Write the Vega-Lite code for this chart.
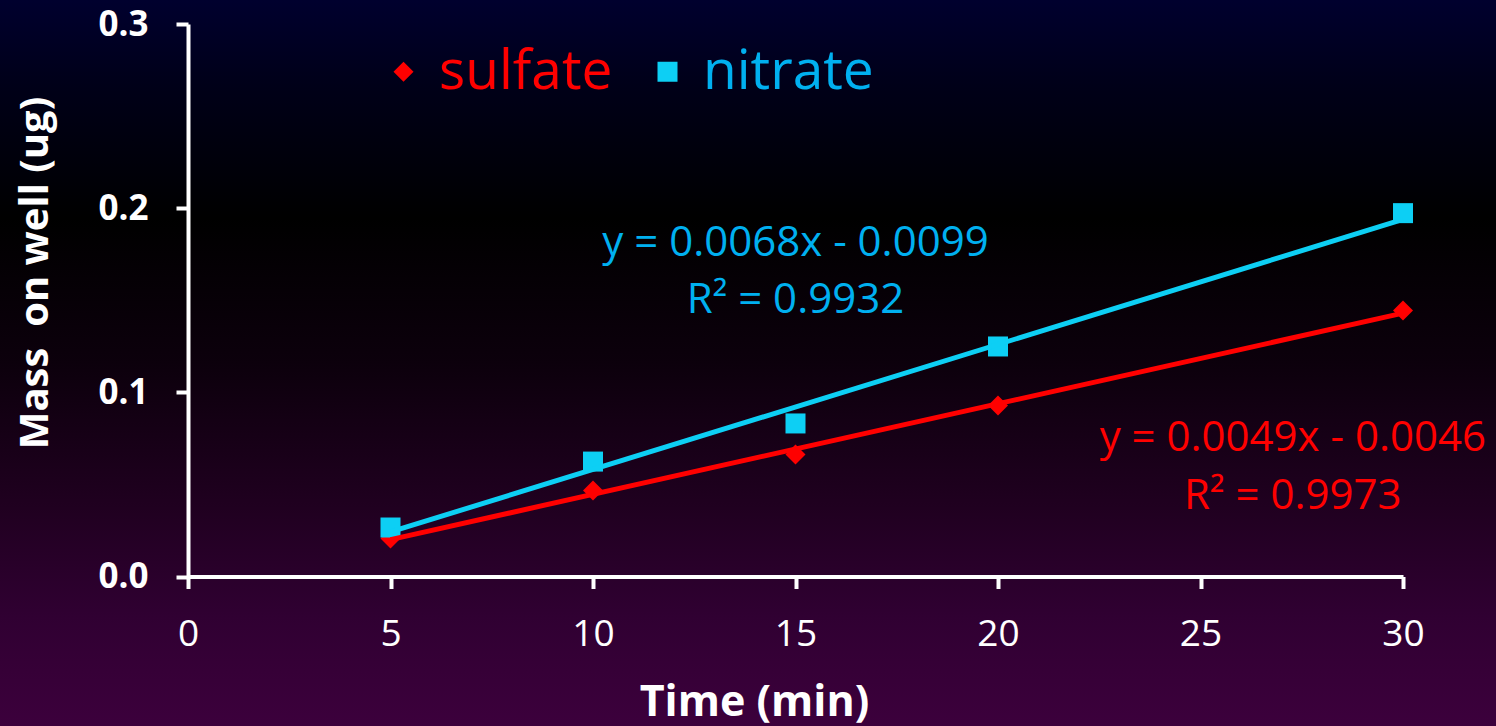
{
  "$schema": "https://vega.github.io/schema/vega-lite/v6.json",
  "width": 1496,
  "height": 726,
  "autosize": {"type": "none"},
  "padding": 0,
  "background": "#0c000c",
  "config": {
    "font": "Open Sans",
    "view": {
      "stroke": null,
      "fill": {
        "gradient": "linear", "x1": 0, "y1": 0, "x2": 0, "y2": 1,
        "stops": [
          {"offset": 0, "color": "#00002e"},
          {"offset": 0.12, "color": "#000018"},
          {"offset": 0.3, "color": "#000000"},
          {"offset": 0.5, "color": "#0c000c"},
          {"offset": 0.7, "color": "#200020"},
          {"offset": 0.85, "color": "#300032"},
          {"offset": 1, "color": "#3c003c"}
        ]
      }
    },
    "axis": {
      "grid": false,
      "domainColor": "#ffffff",
      "domainWidth": 4,
      "tickColor": "#ffffff",
      "tickWidth": 4,
      "tickSize": 12,
      "labelColor": "#ffffff",
      "titleColor": "#ffffff",
      "labelFont": "Open Sans",
      "titleFont": "Open Sans",
      "labelFlush": false,
      "labelOverlap": false
    },
    "legend": {
      "orient": "none",
      "legendX": 376,
      "legendY": 44,
      "direction": "horizontal",
      "padding": 0,
      "labelFont": "Open Sans",
      "labelFontSize": 55,
      "labelLimit": 500,
      "labelOffset": 8,
      "columnPadding": 27,
      "symbolSize": 400,
      "symbolStrokeWidth": 0,
      "symbolOpacity": 1,
      "labelColor": "#00b0f0"
    }
  },
  "datasets": {
    "points": [
      {"series": "sulfate", "time": 5, "mass": 0.0206},
      {"series": "sulfate", "time": 10, "mass": 0.0467},
      {"series": "sulfate", "time": 15, "mass": 0.0662},
      {"series": "sulfate", "time": 20, "mass": 0.0928},
      {"series": "sulfate", "time": 30, "mass": 0.1444},
      {"series": "nitrate", "time": 5, "mass": 0.0266},
      {"series": "nitrate", "time": 10, "mass": 0.0624},
      {"series": "nitrate", "time": 15, "mass": 0.0831},
      {"series": "nitrate", "time": 20, "mass": 0.1249},
      {"series": "nitrate", "time": 30, "mass": 0.1973}
    ],
    "labels": [
      {"series": "nitrate", "label": "y = 0.0068x - 0.0099", "time": 15, "mass": 0.1738},
      {"series": "nitrate", "label": "R² = 0.9932", "time": 15, "mass": 0.1433},
      {"series": "sulfate", "label": "y = 0.0049x - 0.0046", "time": 27.28, "mass": 0.0684},
      {"series": "sulfate", "label": "R² = 0.9973", "time": 27.28, "mass": 0.0369}
    ]
  },
  "encoding": {
    "x": {
      "field": "time", "type": "quantitative",
      "scale": {"domain": [0, 30], "range": [188, 1403], "nice": false, "zero": false},
      "axis": {
        "offset": -149.5,
        "values": [0, 5, 10, 15, 20, 25, 30],
        "labelFontSize": 37,
        "labelFontWeight": "normal",
        "labelPadding": 28,
        "title": "Time (min)",
        "titleFontSize": 43,
        "titleFontWeight": "bold",
        "titleX": 754,
        "titleY": 138.5,
        "titleBaseline": "alphabetic",
        "titleAlign": "center"
      }
    },
    "y": {
      "field": "mass", "type": "quantitative",
      "scale": {"domain": [0, 0.3], "range": [576.5, 24], "nice": false},
      "axis": {
        "offset": -188,
        "values": [0, 0.1, 0.2, 0.3],
        "format": ".1f",
        "labelFontSize": 35,
        "labelFontWeight": "bold",
        "labelPadding": 28,
        "title": "Mass\u00a0 on well (ug)",
        "titleFontSize": 40,
        "titleFontWeight": "bold",
        "titleAngle": 270,
        "titleX": -141,
        "titleY": 272.5,
        "titleBaseline": "alphabetic",
        "titleAlign": "center"
      }
    }
  },
  "layer": [
    {
      "data": {"name": "points"},
      "mark": {"type": "point", "filled": true, "size": 400, "opacity": 1, "strokeWidth": 0},
      "encoding": {
        "color": {
          "field": "series", "type": "nominal",
          "scale": {"domain": ["sulfate", "nitrate"], "range": ["#ff0000", "#0dcff4"]},
          "legend": {
            "title": null,
            "encoding": {
              "labels": {
                "fill": {
                  "condition": {"test": "datum.value === 'sulfate'", "value": "#ff0000"},
                  "value": "#00b0f0"
                }
              }
            }
          }
        },
        "shape": {
          "field": "series", "type": "nominal",
          "scale": {"domain": ["sulfate", "nitrate"], "range": ["diamond", "square"]},
          "legend": {
            "title": null,
            "encoding": {
              "labels": {
                "fill": {
                  "condition": {"test": "datum.value === 'sulfate'", "value": "#ff0000"},
                  "value": "#00b0f0"
                }
              }
            }
          }
        }
      }
    },
    {
      "data": {"name": "points"},
      "transform": [
        {"regression": "mass", "on": "time", "groupby": ["series"], "extent": [5, 30]}
      ],
      "mark": {"type": "line", "strokeWidth": 5},
      "encoding": {
        "detail": {"field": "series", "type": "nominal"},
        "stroke": {
          "condition": {"test": "datum.series === 'sulfate'", "value": "#ff0000"},
          "value": "#0dcff4"
        }
      }
    },
    {
      "data": {"name": "labels"},
      "mark": {"type": "text", "fontSize": 42, "font": "Open Sans", "align": "center", "baseline": "alphabetic"},
      "encoding": {
        "text": {"field": "label"},
        "color": {
          "condition": {"test": "datum.series === 'sulfate'", "value": "#ff0000"},
          "value": "#00b0f0"
        }
      }
    }
  ]
}
